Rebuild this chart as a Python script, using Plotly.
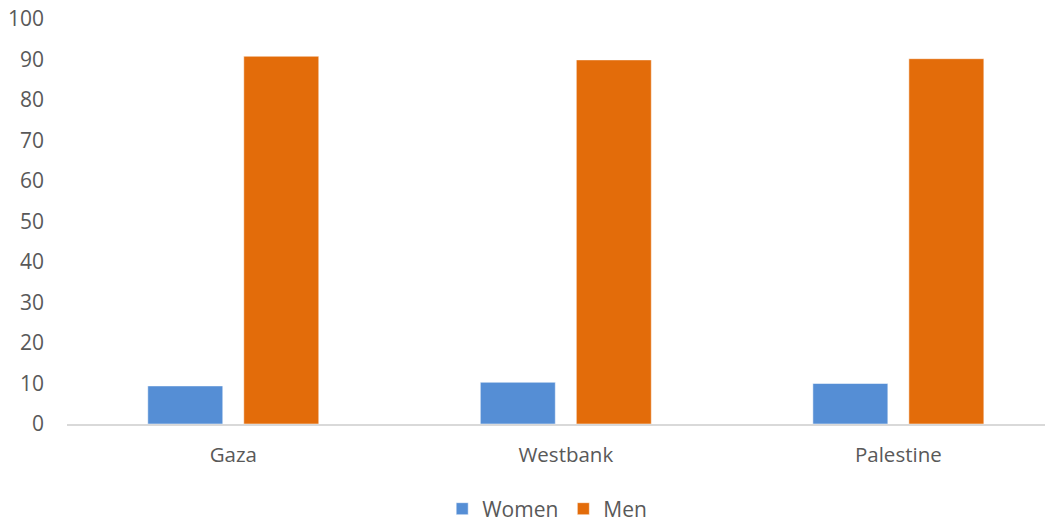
import plotly.graph_objects as go

categories = ["Gaza", "Westbank", "Palestine"]
women = [9.4, 10.3, 10.0]
men = [90.8, 89.9, 90.2]
y_ticks = [0, 10, 20, 30, 40, 50, 60, 70, 80, 90, 100]

font_family = "'Open Sans', sans-serif"
text_color = "#595959"

fig = go.Figure()
fig.add_trace(go.Bar(name="Women", x=categories, y=women,
                     marker=dict(color="#558ED5", line=dict(color="rgba(255,255,255,0.5)", width=1))))
fig.add_trace(go.Bar(name="Men", x=categories, y=men,
                     marker=dict(color="#E36C0A", line=dict(color="rgba(255,255,255,0.5)", width=1))))

fig.update_layout(
    width=1037, height=517,
    margin=dict(l=59, r=0, t=11, b=101, autoexpand=False),
    paper_bgcolor="white", plot_bgcolor="white",
    barmode="group", bargap=0.4226, bargroupgap=0.219,
    font=dict(family=font_family, size=20.5, color=text_color),
    showlegend=True,
    legend=dict(orientation="h", x=0.491, xanchor="center", y=-0.21, yanchor="middle",
                font=dict(size=21, color=text_color), itemwidth=30, traceorder="normal",
                tracegroupgap=0),
    xaxis=dict(type="category", range=[-0.5, 2.441], showgrid=False, automargin=False,
               showline=True, linecolor="#D9D9D9", linewidth=1.5,
               ticks="", ticklabelstandoff=12, ticklabeloverflow="allow",
               tickfont=dict(size=20.5, color=text_color)),
    yaxis=dict(range=[0, 100], tickvals=y_ticks, showgrid=False, zeroline=False, automargin=False,
               showline=False, ticks="", ticklabelstandoff=22, ticklabeloverflow="allow",
               tickfont=dict(size=21, color=text_color)),
)

fig.write_html("out.html")
